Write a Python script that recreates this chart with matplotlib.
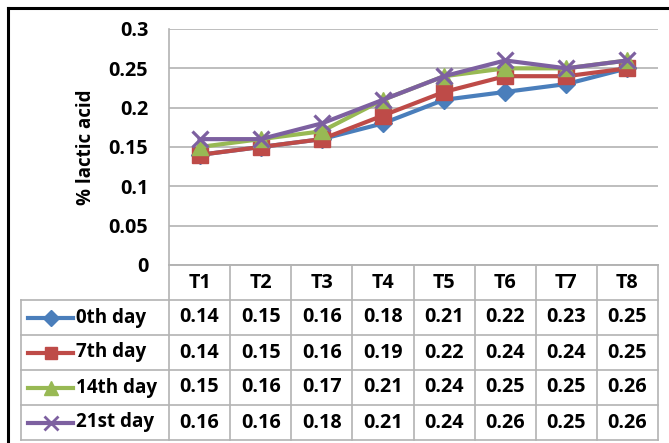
import matplotlib
matplotlib.use("Agg")
import matplotlib.pyplot as plt
from matplotlib.lines import Line2D

plt.rcParams['font.family'] = ['Open Sans', 'DejaVu Sans']
plt.rcParams['font.weight'] = 'bold'

# Data
treatments = ["T1", "T2", "T3", "T4", "T5", "T6", "T7", "T8"]
series_names = ["0th day", "7th day", "14th day", "21st day"]
day0 = [0.14, 0.15, 0.16, 0.18, 0.21, 0.22, 0.23, 0.25]
day7 = [0.14, 0.15, 0.16, 0.19, 0.22, 0.24, 0.24, 0.25]
day14 = [0.15, 0.16, 0.17, 0.21, 0.24, 0.25, 0.25, 0.26]
day21 = [0.16, 0.16, 0.18, 0.21, 0.24, 0.26, 0.25, 0.26]
yticks = [0, 0.05, 0.1, 0.15, 0.2, 0.25, 0.3]
ytick_labels = ["0", "0.05", "0.1", "0.15", "0.2", "0.25", "0.3"]

series = [day0, day7, day14, day21]
colors = ["#4A7EBB", "#BE4B48", "#98B954", "#7D60A0"]
markers = ["D", "s", "^", "x"]
msizes = [9.5, 11, 11.5, 12]

W, H = 669, 443
fig = plt.figure(figsize=(W / 100, H / 100), dpi=100)
fig.patch.set_facecolor("white")

# pixel layout
px_left, px_right = 169, 658
px_top, px_axis = 29, 265
px_table_left, px_table_bottom = 21, 440

def fx(px):
    return px / W

def fy(py):
    return 1 - py / H

grid_col = "#B3B3B3"
fsize = 14.2
lw = 3.0

ax = fig.add_axes([fx(px_left), fy(px_axis), fx(px_right - px_left), (px_axis - px_top) / H])
x = list(range(len(treatments)))
for vals, c, m, ms in zip(series, colors, markers, msizes):
    if m == "x":
        ax.plot(x, vals, color=c, lw=lw, marker=m, ms=ms, mew=2.3, zorder=3, clip_on=False)
    else:
        ax.plot(x, vals, color=c, lw=lw, marker=m, ms=ms, mec=c, mfc=c, zorder=3, clip_on=False)
ax.set_xlim(-0.5, len(treatments) - 0.5)
ax.set_ylim(0, 0.3)
ax.set_yticks(yticks)
ax.set_yticklabels(ytick_labels, fontsize=fsize, fontweight="bold")
ax.set_xticks([])
ax.tick_params(axis="y", length=0, pad=15)
ax.yaxis.grid(True, color=grid_col, lw=1.2)
ax.set_axisbelow(True)
for s in ["top", "right"]:
    ax.spines[s].set_visible(False)
ax.spines["left"].set_color(grid_col)
ax.spines["bottom"].set_color(grid_col)
ax.spines["left"].set_linewidth(1.2)
ax.spines["bottom"].set_linewidth(1.2)
ax.set_ylabel("% lactic acid", fontsize=13.5, fontweight="bold", labelpad=9)

# Data table below the plot
col_w = (px_right - px_left) / len(treatments)
legend_cols = (px_left - px_table_left) / col_w
tab = fig.add_axes([fx(px_table_left), fy(px_table_bottom), fx(px_right - px_table_left),
                    (px_table_bottom - px_axis) / H])
tab.set_xlim(-0.5 - legend_cols, len(treatments) - 0.5)
n_rows = len(series) + 1
tab.set_ylim(n_rows, 0)
tab.axis("off")

lkw = dict(color=grid_col, lw=1.2, clip_on=False)
# horizontal lines
tab.plot([-0.5, len(treatments) - 0.5], [0, 0], **lkw)
for r in range(1, n_rows + 1):
    tab.plot([-0.5 - legend_cols, len(treatments) - 0.5], [r, r], **lkw)
# vertical lines
for i in range(len(treatments) + 1):
    tab.plot([i - 0.5, i - 0.5], [0, n_rows], **lkw)
tab.plot([-0.5 - legend_cols] * 2, [1, n_rows], **lkw)

for i, t in enumerate(treatments):
    tab.text(i, 0.5, t, ha="center", va="center", fontsize=fsize, fontweight="bold")
for r, (name, vals, c, m, ms) in enumerate(zip(series_names, series, colors, markers, msizes)):
    yy = r + 1.5
    for i, v in enumerate(vals):
        tab.text(i, yy, f"{v:.2f}", ha="center", va="center", fontsize=fsize, fontweight="bold")
    # legend key
    x0 = -0.5 - legend_cols
    k1 = x0 + 7 / col_w
    k2 = x0 + 52 / col_w
    tab.add_line(Line2D([k1, k2], [yy, yy], color=c, lw=lw))
    if m == "x":
        tab.add_line(Line2D([(k1 + k2) / 2], [yy], color=c, marker=m, ms=ms * 0.85, mew=2.0, lw=0))
    else:
        tab.add_line(Line2D([(k1 + k2) / 2], [yy], color=c, marker=m, ms=ms * 0.85, mec=c, mfc=c, lw=0))
    tab.text(x0 + 55 / col_w, yy, name, ha="left", va="center", fontsize=13.6, fontweight="bold")

# chart frame lines
fig.add_artist(Line2D([fx(8), fx(8)], [fy(8), 0], color="black", lw=2.2))
fig.add_artist(Line2D([fx(8), 1], [fy(8), fy(8)], color="black", lw=2.2))

fig.savefig("out.png", dpi=100, facecolor="white")
